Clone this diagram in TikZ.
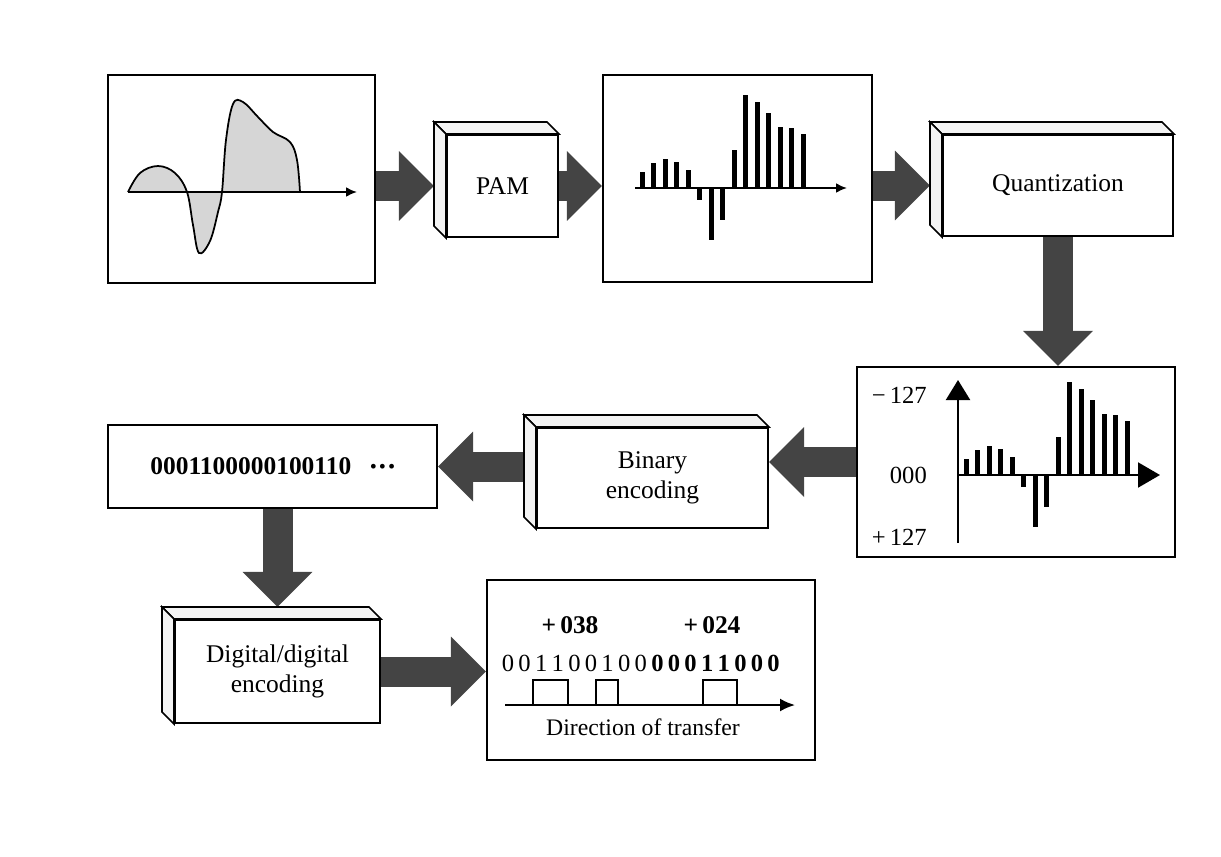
\documentclass[tikz,border=0pt]{standalone}
\usepackage{fontspec}
\setmainfont{Liberation Serif}
\usepackage{tikz}
\usetikzlibrary{arrows.meta}
\usetikzlibrary{calc}
\definecolor{colorArrow}{HTML}{444444}
\definecolor{colorWave}{HTML}{D6D6D6}
\definecolor{colorFace}{HTML}{F3F3F3}
\def\colorArrow{colorArrow}
\def\colorWave{colorWave}
\def\colorFace{colorFace}
\newcommand{\dep}{0.24cm}
\newcommand{\samplevals}{16,25,29,26,18,-12,-52,-32,38,93,86,75,61,60,54}
% top and left faces of a 3d block
\newcommand{\slab}[1]{%
  \draw[face] (#1.north west) -- ([shift={(-\dep,\dep)}]#1.north west) -- ([shift={(-\dep,\dep)}]#1.north east) -- (#1.north east) -- cycle;
  \draw[face] (#1.north west) -- ([shift={(-\dep,\dep)}]#1.north west) -- ([shift={(-\dep,\dep)}]#1.south west) -- (#1.south west) -- cycle;
}
\tikzset{
  panel/.style={draw, line width=1.2pt, fill=white, inner sep=0pt},
  face/.style={draw, line width=0.9pt, fill=\colorFace},
  lbl/.style={font=\fontsize{14.5}{17}\selectfont, align=center},
  bigarrow/.style={line width=0.6cm, draw=\colorArrow, -{Triangle[length=0.7cm, width=1.4cm, line width=0pt]}},
  bar/.style={line width=0.1cm},
  axisline/.style={line width=1.2pt},
}

\begin{document}
\begin{tikzpicture}[x=0.02cm, y=-0.02cm]
  \useasboundingbox (0,0) rectangle (1221,856);

  % blocks of the chain
  \node[panel, minimum width=5.34cm, minimum height=4.16cm] (wave) at (241.5,179) {};
  \node[panel, lbl, minimum width=2.22cm, minimum height=2.04cm] (pam) at (502.5,186) {PAM};
  \node[panel, minimum width=5.38cm, minimum height=4.14cm] (samp) at (737.5,178.5) {};
  \node[panel, lbl, minimum width=4.6cm, minimum height=2.02cm] (quant) at (1058,185.5) {Quantization};
  \node[panel, minimum width=6.36cm, minimum height=3.8cm] (qbox) at (1016,462) {};
  \node[panel, lbl, minimum width=4.62cm, minimum height=2cm] (bin) at (652.5,478) {Binary\\encoding};
  \node[panel, lbl, font=\fontsize{14.5}{17}\selectfont\bfseries, minimum width=6.58cm, minimum height=1.66cm] (bits) at (272.5,466.5) {0001100000100110\ \ \ \raisebox{0.1em}{\fontsize{10}{10}\selectfont\textbullet\,\textbullet\,\textbullet}};
  \node[panel, lbl, minimum width=4.1cm, minimum height=2.06cm] (dig) at (277.5,671.5) {Digital/digital\\encoding};
  \node[panel, minimum width=6.56cm, minimum height=3.6cm] (final) at (651,670) {};

  % fat arrows
  \draw[bigarrow] (wave.east |- pam.west) -- ([xshift=-\dep]pam.west);
  \draw[bigarrow] (pam.east) -- (samp.west |- pam.east);
  \draw[bigarrow] (samp.east |- quant.west) -- ([xshift=-\dep]quant.west);
  \draw[bigarrow] (quant.south) -- (quant.south |- qbox.north);
  \draw[bigarrow] (qbox.west) -- (bin.east |- qbox.west);
  \draw[bigarrow] (bin.west |- bits.east) -- (bits.east);
  \draw[bigarrow] (bits.south -| dig.north) -- ([yshift=\dep]dig.north);
  \draw[bigarrow] (dig.east) -- (final.west |- dig.east);

  \slab{pam}
  \slab{quant}
  \slab{bin}
  \slab{dig}

  % analog signal
  \newcommand{\signal}{plot[smooth, tension=0.6] coordinates {(128,192) (140,173) (158,166) (175,173) (187,192) (193,225) (199,253) (210,241) (218,212) (222,192) (226,140) (233,104) (243,102) (258,117) (273,132) (290,142) (297,160) (300,192)}}
  \fill[\colorWave] \signal -- cycle;
  \draw[line width=1pt] \signal;
  \draw[axisline, -{Latex[length=0.22cm, width=0.2cm]}] (128,192) -- (357,192);

  % samples
  \foreach \h [count=\i from 0] in \samplevals
    \draw[bar] ({642+11.5*\i},188) -- ({642+11.5*\i},{188-\h});
  \draw[axisline, -{Latex[length=0.22cm, width=0.2cm]}] (635,188) -- (847,188);

  % quantized samples
  \foreach \h [count=\i from 0] in \samplevals
    \draw[bar] ({966+11.5*\i},475) -- ({966+11.5*\i},{475-\h});
  \draw[axisline, -{Triangle[length=0.4cm, width=0.48cm]}] (958,543) -- (958,380);
  \draw[axisline, -{Triangle[length=0.44cm, width=0.5cm]}] (958,475) -- (1160,475);
  \node[lbl, font=\fontsize{14}{17}\selectfont, anchor=east] (top) at (933,395) {−\,127};
  \node[lbl, font=\fontsize{14}{17}\selectfont, anchor=east] (zero) at (933,475) {000};
  \node[lbl, font=\fontsize{14}{17}\selectfont, anchor=east] (bottom) at (933,537) {+\,127};

  % line code
  \node[lbl, font=\fontsize{14.5}{17}\selectfont\bfseries] (first) at (570,625) {+\,038};
  \node[lbl, font=\fontsize{14.5}{17}\selectfont\bfseries] (second) at (712,625) {+\,024};
  \foreach \b [count=\i from 0] in {0,0,1,1,0,0,1,0,0,0,0,0,1,1,0,0,0}
    \node[lbl, font=\fontsize{14}{17}\selectfont\ifnum\i>8 \bfseries\fi] (bit\i) at ({508+16.6*\i},663) {\b};
  \draw[axisline] (533,705) -- (533,680) -- (568,680) -- (568,705);
  \draw[axisline] (596,705) -- (596,680) -- (618,680) -- (618,705);
  \draw[axisline] (703,705) -- (703,680) -- (737,680) -- (737,705);
  \draw[axisline, -{Latex[length=0.3cm, width=0.26cm]}] (505,705) -- (795,705);
  \node[lbl, font=\fontsize{13.5}{16}\selectfont] (dir) at (643,727) {Direction of transfer};

\end{tikzpicture}
\end{document}
